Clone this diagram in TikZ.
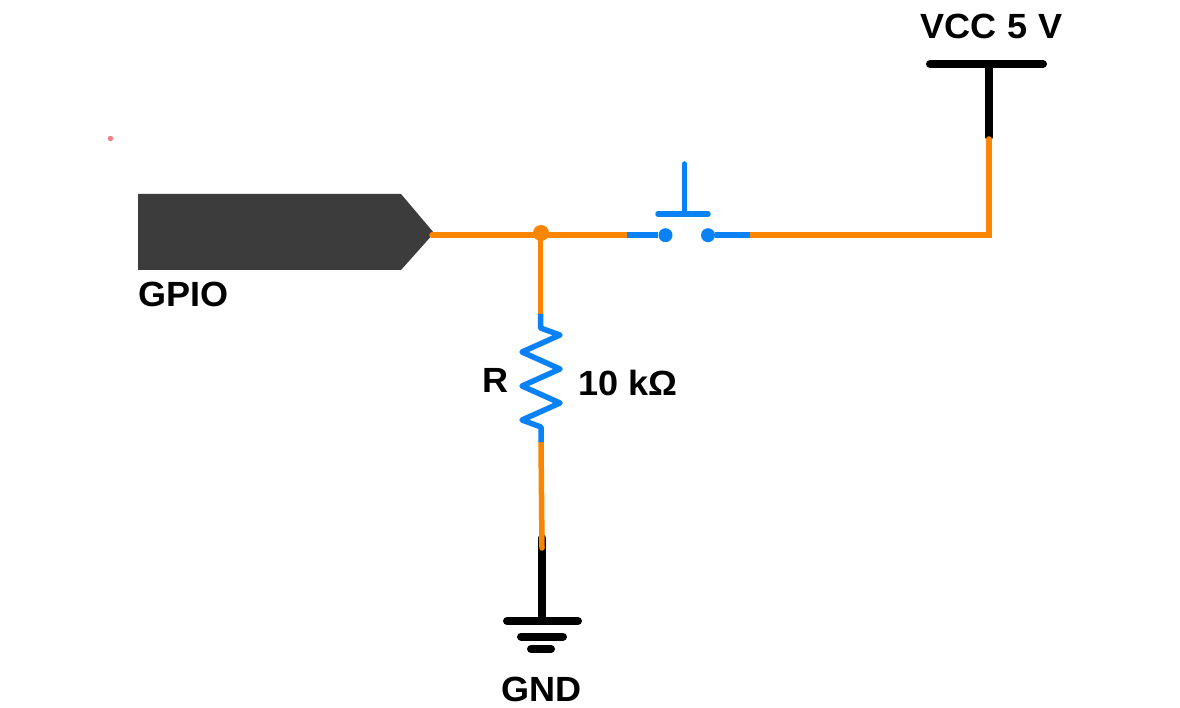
\documentclass[tikz,border=0pt]{standalone}
\usepackage{fontspec}
\setmainfont[FakeStretch=1.03]{Liberation Sans}
\definecolor{wire}{HTML}{F98500}
\definecolor{part}{HTML}{0A82F5}
\definecolor{chip}{HTML}{3C3C3C}
\definecolor{speck}{HTML}{F28080}
\tikzset{
  x=1pt,y=-1pt,
  wireline/.style={draw=wire,line width=5.5pt,line cap=round,line join=miter},
  partline/.style={draw=part,line width=5.5pt,line cap=round,line join=round},
  railline/.style={draw=black,line width=8pt,line cap=round},
  lbl/.style={font=\bfseries\fontsize{35}{35}\selectfont,text=black,inner sep=0pt,anchor=base west},
  pin/.style={circle,fill=part,draw=none,minimum size=14pt,inner sep=0pt},
}
\begin{document}
\begin{tikzpicture}
\useasboundingbox (0,0) rectangle (1180,708);
\fill[white] (0,0) rectangle (1180,708);
\fill[speck] (110.5,138.5) circle (2.7);
% coordinates
\coordinate (out) at (432,235.2);
\coordinate (junction) at (540.5,235.2);
\coordinate (swL) at (627,235.2);
\coordinate (swR) at (750,235.2);
\coordinate (corner) at (989,235.2);
\coordinate (vccEnd) at (989,139);
\coordinate (vccTop) at (989,64);
\coordinate (rTop) at (540.5,314);
\coordinate (rBot) at (541,442);
\coordinate (gndEnd) at (542,548);
\coordinate (gndTop) at (542,538);
\coordinate (gndBar) at (542,621);
\node[pin] (pinL) at (665.5,235.2) {};
\node[pin] (pinR) at (708,235.2) {};
% chip
\fill[chip] (138,194) -- (401,194) -- (434,233) -- (401,270) -- (138,270) -- cycle;
% rails
\draw[railline] (vccTop) -- (989,137);
\draw[railline] (930,64) -- (1043,64);
\draw[railline] (gndTop) -- (gndBar);
\draw[railline] (507,621) -- (578,621);
\draw[railline] (521,636.5) -- (563,636.5);
\draw[railline] (531,649) -- (551,649);
% wires
\draw[wireline] (out) -- (swL);
\draw[wireline] (swR) -- (corner) -- (vccEnd);
\draw[wireline,line cap=butt] (junction) -- (rTop);
\draw[wireline] (rBot) -- (gndEnd);
\fill[wire] (541,233) circle (8);
% switch
\draw[partline,line cap=butt] (swL) -- (pinL);
\draw[partline,line cap=butt] (pinR) -- (swR);
\draw[partline] (684.5,164) -- (684.5,214);
\draw[partline] (658,214) -- (708,214);
% resistor
\draw[partline,line cap=butt] (rTop) -- (540.5,328) -- (560,335) -- (522,352) -- (560,369) -- (522,386) -- (560,403) -- (522,420) -- (541,427) -- (rBot);
% labels
\node[lbl] (vcc) at (920,38.5) {VCC\hspace{1pt} 5\hspace{1pt} V};
\node[lbl] (gpio) at (138,306.5) {GPIO};
\node[lbl] (r) at (482,392) {R};
\node[lbl] (ohm) at (578,395.5) {10 k\char"03A9};
\node[lbl] (gnd) at (501,701) {GND};
\end{tikzpicture}
\end{document}
